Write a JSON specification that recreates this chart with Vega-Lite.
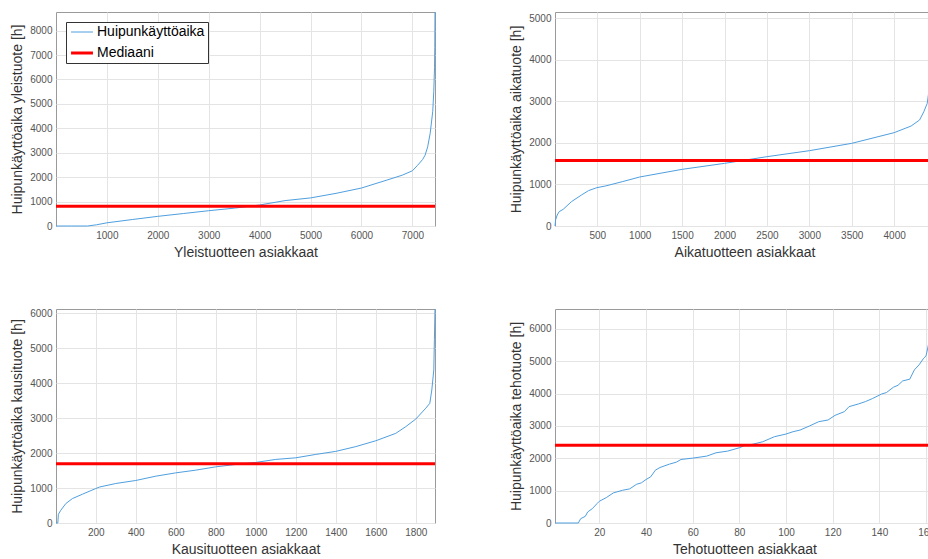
{
  "$schema": "https://vega.github.io/schema/vega-lite/v6.json",
  "padding": {"left": 10, "top": 9, "right": 0, "bottom": 0},
  "background": "white",
  "datasets": {
    "yleis": [
      {"asiakas": 1, "aika": 0}, {"asiakas": 300, "aika": 0}, {"asiakas": 620, "aika": 0},
      {"asiakas": 800, "aika": 50}, {"asiakas": 1000, "aika": 130}, {"asiakas": 1500, "aika": 265},
      {"asiakas": 2000, "aika": 395}, {"asiakas": 2500, "aika": 510}, {"asiakas": 3000, "aika": 626},
      {"asiakas": 3500, "aika": 730}, {"asiakas": 4000, "aika": 860}, {"asiakas": 4500, "aika": 1040},
      {"asiakas": 5000, "aika": 1150}, {"asiakas": 5500, "aika": 1336}, {"asiakas": 6000, "aika": 1555},
      {"asiakas": 6500, "aika": 1880}, {"asiakas": 6800, "aika": 2080}, {"asiakas": 7000, "aika": 2260},
      {"asiakas": 7100, "aika": 2480}, {"asiakas": 7200, "aika": 2720}, {"asiakas": 7250, "aika": 2900},
      {"asiakas": 7300, "aika": 3240}, {"asiakas": 7350, "aika": 3800}, {"asiakas": 7400, "aika": 4700},
      {"asiakas": 7420, "aika": 5500}, {"asiakas": 7435, "aika": 6500}, {"asiakas": 7440, "aika": 7300},
      {"asiakas": 7444, "aika": 8760}
    ],
    "aika": [
      {"asiakas": 1, "aika": 0}, {"asiakas": 8, "aika": 150}, {"asiakas": 27, "aika": 265},
      {"asiakas": 50, "aika": 345}, {"asiakas": 97, "aika": 401}, {"asiakas": 195, "aika": 586},
      {"asiakas": 313, "aika": 746}, {"asiakas": 396, "aika": 851}, {"asiakas": 494, "aika": 923},
      {"asiakas": 600, "aika": 965}, {"asiakas": 800, "aika": 1070}, {"asiakas": 1000, "aika": 1180},
      {"asiakas": 1500, "aika": 1364}, {"asiakas": 2000, "aika": 1508}, {"asiakas": 2500, "aika": 1669},
      {"asiakas": 3000, "aika": 1813}, {"asiakas": 3500, "aika": 1990}, {"asiakas": 4000, "aika": 2247},
      {"asiakas": 4200, "aika": 2407}, {"asiakas": 4300, "aika": 2552}, {"asiakas": 4350, "aika": 2752},
      {"asiakas": 4390, "aika": 2950}, {"asiakas": 4420, "aika": 3400}, {"asiakas": 4445, "aika": 4000},
      {"asiakas": 4460, "aika": 4500}, {"asiakas": 4470, "aika": 5050}
    ],
    "kausi": [
      {"asiakas": 1, "aika": 0}, {"asiakas": 10, "aika": 0}, {"asiakas": 13, "aika": 250},
      {"asiakas": 25, "aika": 364}, {"asiakas": 50, "aika": 555}, {"asiakas": 83, "aika": 698},
      {"asiakas": 133, "aika": 822}, {"asiakas": 200, "aika": 985}, {"asiakas": 220, "aika": 1030},
      {"asiakas": 300, "aika": 1129}, {"asiakas": 400, "aika": 1215}, {"asiakas": 500, "aika": 1338},
      {"asiakas": 600, "aika": 1433}, {"asiakas": 700, "aika": 1510}, {"asiakas": 800, "aika": 1605},
      {"asiakas": 900, "aika": 1673}, {"asiakas": 1000, "aika": 1731}, {"asiakas": 1100, "aika": 1817},
      {"asiakas": 1200, "aika": 1863}, {"asiakas": 1300, "aika": 1960}, {"asiakas": 1400, "aika": 2047},
      {"asiakas": 1500, "aika": 2183}, {"asiakas": 1600, "aika": 2350}, {"asiakas": 1700, "aika": 2562},
      {"asiakas": 1750, "aika": 2754}, {"asiakas": 1800, "aika": 2970}, {"asiakas": 1850, "aika": 3281},
      {"asiakas": 1870, "aika": 3420}, {"asiakas": 1880, "aika": 3800}, {"asiakas": 1890, "aika": 4375},
      {"asiakas": 1893, "aika": 5235}, {"asiakas": 1896, "aika": 6115}
    ],
    "teho": [
      {"asiakas": 1, "aika": 0}, {"asiakas": 10, "aika": 0}, {"asiakas": 11, "aika": 0},
      {"asiakas": 12, "aika": 134}, {"asiakas": 14, "aika": 207}, {"asiakas": 15, "aika": 341},
      {"asiakas": 17, "aika": 444}, {"asiakas": 19, "aika": 599}, {"asiakas": 20, "aika": 671},
      {"asiakas": 23, "aika": 785}, {"asiakas": 26, "aika": 930}, {"asiakas": 30, "aika": 1012},
      {"asiakas": 33, "aika": 1054}, {"asiakas": 36, "aika": 1198}, {"asiakas": 38, "aika": 1240},
      {"asiakas": 40, "aika": 1343}, {"asiakas": 42, "aika": 1426}, {"asiakas": 44, "aika": 1632},
      {"asiakas": 46, "aika": 1715}, {"asiakas": 50, "aika": 1818}, {"asiakas": 53, "aika": 1880},
      {"asiakas": 55, "aika": 1963}, {"asiakas": 60, "aika": 2004}, {"asiakas": 66, "aika": 2066},
      {"asiakas": 70, "aika": 2169}, {"asiakas": 75, "aika": 2221}, {"asiakas": 80, "aika": 2324},
      {"asiakas": 82, "aika": 2386}, {"asiakas": 86, "aika": 2438}, {"asiakas": 90, "aika": 2510},
      {"asiakas": 95, "aika": 2665}, {"asiakas": 100, "aika": 2748}, {"asiakas": 103, "aika": 2820},
      {"asiakas": 106, "aika": 2871}, {"asiakas": 110, "aika": 2996}, {"asiakas": 114, "aika": 3130},
      {"asiakas": 118, "aika": 3182}, {"asiakas": 121, "aika": 3326}, {"asiakas": 125, "aika": 3440},
      {"asiakas": 127, "aika": 3595}, {"asiakas": 131, "aika": 3677}, {"asiakas": 134, "aika": 3750},
      {"asiakas": 137, "aika": 3843}, {"asiakas": 141, "aika": 3987}, {"asiakas": 143, "aika": 4029},
      {"asiakas": 146, "aika": 4194}, {"asiakas": 148, "aika": 4256}, {"asiakas": 150, "aika": 4390},
      {"asiakas": 153, "aika": 4442}, {"asiakas": 155, "aika": 4731}, {"asiakas": 157, "aika": 4886},
      {"asiakas": 159, "aika": 5093}, {"asiakas": 160, "aika": 5165}, {"asiakas": 161, "aika": 5500},
      {"asiakas": 162, "aika": 6000}, {"asiakas": 163, "aika": 6600}
    ],
    "mediaanit": [
      {"tuote": "yleis", "mediaani": 805},
      {"tuote": "aika", "mediaani": 1575},
      {"tuote": "kausi", "mediaani": 1690},
      {"tuote": "teho", "mediaani": 2400}
    ]
  },
  "bounds": "flush",
  "columns": 2,
  "spacing": {"row": 83, "column": 120},
  "concat": [
    {
      "width": 379, "height": 214,
      "layer": [
        {
          "data": {"name": "yleis"},
          "mark": {"type": "line", "strokeWidth": 1},
          "encoding": {
            "x": {"field": "asiakas", "type": "quantitative", "scale": {"domain": [1, 7444], "nice": false, "zero": false},
                  "axis": {"title": "Yleistuotteen asiakkaat", "values": [1000, 2000, 3000, 4000, 5000, 6000, 7000]}},
            "y": {"field": "aika", "type": "quantitative", "scale": {"domain": [0, 8761], "nice": false},
                  "axis": {"title": "Huipunkäyttöaika yleistuote [h]", "values": [0, 1000, 2000, 3000, 4000, 5000, 6000, 7000, 8000]}},
            "color": {"datum": "Huipunkäyttöaika", "type": "nominal",
                      "scale": {"domain": ["Huipunkäyttöaika", "Mediaani"], "range": ["#4f9fdf", "#ff0000"]},
                      "legend": {"orient": "none", "legendX": 10, "legendY": 10, "title": null, "symbolType": "stroke", "symbolSize": 480,
                                 "symbolOffset": 6, "symbolStrokeWidth": 1, "labelFontSize": 14, "labelColor": "#000000", "labelOffset": 8,
                                 "strokeColor": "#333333", "fillColor": "#ffffff", "padding": 3, "rowPadding": 7,
                                 "encode": {"symbols": {"update": {"strokeWidth": {"signal": "datum.value === 'Mediaani' ? 3 : 1"}}}}}}
          }
        },
        {
          "data": {"name": "mediaanit"},
          "transform": [{"filter": "datum.tuote === 'yleis'"}],
          "mark": {"type": "rule", "strokeWidth": 3},
          "encoding": {
            "y": {"field": "mediaani", "type": "quantitative"},
            "color": {"datum": "Mediaani", "type": "nominal"}
          }
        }
      ]
    },
    {
      "width": 379, "height": 214,
      "layer": [
        {
          "data": {"name": "aika"},
          "mark": {"type": "line", "strokeWidth": 1, "color": "#4f9fdf"},
          "encoding": {
            "x": {"field": "asiakas", "type": "quantitative", "scale": {"domain": [1, 4470], "nice": false, "zero": false},
                  "axis": {"title": "Aikatuotteen asiakkaat", "values": [500, 1000, 1500, 2000, 2500, 3000, 3500, 4000]}},
            "y": {"field": "aika", "type": "quantitative", "scale": {"domain": [0, 5152], "nice": false},
                  "axis": {"title": "Huipunkäyttöaika aikatuote [h]", "values": [0, 1000, 2000, 3000, 4000, 5000]}}
          }
        },
        {
          "data": {"name": "mediaanit"},
          "transform": [{"filter": "datum.tuote === 'aika'"}],
          "mark": {"type": "rule", "strokeWidth": 3, "color": "#ff0000"},
          "encoding": {"y": {"field": "mediaani", "type": "quantitative"}}
        }
      ]
    },
    {
      "width": 379, "height": 214,
      "layer": [
        {
          "data": {"name": "kausi"},
          "mark": {"type": "line", "strokeWidth": 1, "color": "#4f9fdf"},
          "encoding": {
            "x": {"field": "asiakas", "type": "quantitative", "scale": {"domain": [1, 1896], "nice": false, "zero": false},
                  "axis": {"title": "Kausituotteen asiakkaat", "values": [200, 400, 600, 800, 1000, 1200, 1400, 1600, 1800]}},
            "y": {"field": "aika", "type": "quantitative", "scale": {"domain": [0, 6115], "nice": false},
                  "axis": {"title": "Huipunkäyttöaika kausituote [h]", "values": [0, 1000, 2000, 3000, 4000, 5000, 6000]}}
          }
        },
        {
          "data": {"name": "mediaanit"},
          "transform": [{"filter": "datum.tuote === 'kausi'"}],
          "mark": {"type": "rule", "strokeWidth": 3, "color": "#ff0000"},
          "encoding": {"y": {"field": "mediaani", "type": "quantitative"}}
        }
      ]
    },
    {
      "width": 379, "height": 214,
      "layer": [
        {
          "data": {"name": "teho"},
          "mark": {"type": "line", "strokeWidth": 1, "color": "#4f9fdf"},
          "encoding": {
            "x": {"field": "asiakas", "type": "quantitative", "scale": {"domain": [1, 163.4], "nice": false, "zero": false},
                  "axis": {"title": "Tehotuotteen asiakkaat", "values": [20, 40, 60, 80, 100, 120, 140, 160]}},
            "y": {"field": "aika", "type": "quantitative", "scale": {"domain": [0, 6611], "nice": false},
                  "axis": {"title": "Huipunkäyttöaika tehotuote [h]", "values": [0, 1000, 2000, 3000, 4000, 5000, 6000]}}
          }
        },
        {
          "data": {"name": "mediaanit"},
          "transform": [{"filter": "datum.tuote === 'teho'"}],
          "mark": {"type": "rule", "strokeWidth": 3, "color": "#ff0000"},
          "encoding": {"y": {"field": "mediaani", "type": "quantitative"}}
        }
      ]
    }
  ],
  "resolve": {"scale": {"x": "independent", "y": "independent", "color": "independent"}},
  "config": {
    "font": "Liberation Sans",
    "view": {"stroke": "#9a9a9a", "strokeWidth": 1},
    "axis": {
      "domain": false, "ticks": false, "grid": true, "gridColor": "#e4e4e4", "gridWidth": 1, "format": "d",
      "tickCount": 30,
      "labelFontSize": 10, "labelColor": "#555555", "labelPadding": 4, "labelFlush": false, "labelBound": false,
      "labelOverlap": false,
      "titleFontSize": 14, "titleFontWeight": "normal", "titleColor": "#333333", "titlePadding": 5
    }
  }
}
